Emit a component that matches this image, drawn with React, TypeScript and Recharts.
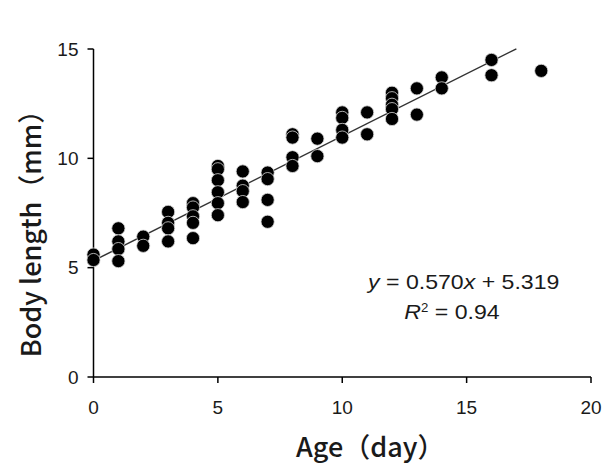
import React, { useEffect } from 'react'
import {
  ScatterChart,
  Scatter,
  XAxis,
  YAxis,
  ReferenceLine,
} from 'recharts'

// age (day) of each measured larva
const ageDays = [
  0, 0,
  1, 1, 1, 1,
  2, 2,
  3, 3, 3, 3,
  4, 4, 4, 4, 4,
  5, 5, 5, 5, 5, 5,
  6, 6, 6, 6,
  7, 7, 7, 7,
  8, 8, 8, 8,
  9, 9,
  10, 10, 10, 10,
  11, 11,
  12, 12, 12, 12, 12,
  13, 13,
  14, 14,
  16, 16,
  18,
]

// body length (mm), same order as ageDays
const bodyLengthMm = [
  5.6, 5.35,
  6.8, 6.2, 5.85, 5.3,
  6.42, 6.0,
  7.55, 7.05, 6.8, 6.2,
  7.95, 7.75, 7.35, 7.05, 6.35,
  9.65, 9.5, 9.0, 8.45, 7.95, 7.4,
  9.4, 8.75, 8.5, 8.0,
  9.35, 9.05, 8.1, 7.1,
  11.1, 10.95, 10.05, 9.65,
  10.9, 10.1,
  12.1, 11.85, 11.3, 10.95,
  12.1, 11.1,
  13.0, 12.75, 12.45, 12.25, 11.8,
  13.2, 12.0,
  13.7, 13.2,
  14.5, 13.8,
  14.0,
]

// linear fit: y = 0.570x + 5.319, R^2 = 0.94
const fitSlope = 0.57
const fitIntercept = 5.319
const fitRSquared = 0.94
const fitAgeRange = [0, 17]

const xTicks = [0, 5, 10, 15, 20]
const yTicks = [0, 5, 10, 15]

const points = ageDays.map((age, i) => ({ age, length: bodyLengthMm[i] }))
const fitSegment = fitAgeRange.map((x) => ({ x, y: fitIntercept + fitSlope * x }))

const tickStyle = { fontFamily: 'Liberation Sans, Arial, sans-serif', fontSize: 19, fill: '#1a1a1a' }
const labelFont = '"Noto Sans CJK JP", "Liberation Sans", sans-serif'

const Dot = (props: any) => (
  <circle cx={props.cx} cy={props.cy} r={6.6} fill="#000" stroke="#d8d8d8" strokeWidth={0.8} />
)

// axis titles; viewBox is the axis' own box
const XTitle = ({ viewBox }: any) => (
  <text
    x={viewBox.x + viewBox.width / 2 + 28}
    y={viewBox.y + 80}
    textAnchor="middle"
    fontFamily={labelFont}
    fontSize={27}
    fontWeight={500}
    fill="#1a1a1a"
  >
    Age（day）
  </text>
)

const YTitle = ({ viewBox }: any) => {
  const cx = viewBox.x + viewBox.width - 64
  const cy = viewBox.y + viewBox.height / 2 + 14
  return (
    <text
      x={cx}
      y={cy}
      transform={`rotate(-90, ${cx}, ${cy})`}
      textAnchor="middle"
      dominantBaseline="central"
      fontFamily={labelFont}
      fontSize={27}
      fontWeight={500}
      fill="#1a1a1a"
    >
      Body length（mm）
    </text>
  )
}

const App: React.FC = () => {
  useEffect(() => {
    document.body.style.margin = '0'
  }, [])

  return (
    <div style={{ position: 'relative', width: 611, height: 474, background: '#fff' }}>
      <ScatterChart width={611} height={474} margin={{ top: 49, right: 20, bottom: 37, left: 33.5 }}>
        <XAxis
          type="number"
          dataKey="age"
          domain={[0, 20]}
          ticks={xTicks}
          height={60}
          tickSize={6}
          tickMargin={18}
          stroke="#000"
          strokeWidth={1.5}
          tick={tickStyle}
          label={<XTitle />}
        />
        <YAxis
          type="number"
          dataKey="length"
          domain={[0, 15]}
          ticks={yTicks}
          width={60}
          tickSize={6}
          tickMargin={9}
          stroke="#000"
          strokeWidth={1.5}
          tick={tickStyle}
          label={<YTitle />}
        />
        <ReferenceLine segment={fitSegment} stroke="#333" strokeWidth={1.5} ifOverflow="visible" />
        <Scatter data={points} fill="#000" shape={Dot} isAnimationActive={false} />
      </ScatterChart>
      <div
        style={{
          position: 'absolute',
          left: 368,
          top: 267,
          fontFamily: 'Liberation Sans, Arial, sans-serif',
          fontSize: 21,
          color: '#1a1a1a',
          lineHeight: '30px',
          whiteSpace: 'nowrap',
          transform: 'scaleX(1.1)',
          transformOrigin: 'left top',
        }}
      >
        <div>
          <i>y</i> = {fitSlope.toFixed(3)}<i>x</i> + {fitIntercept.toFixed(3)}
        </div>
        <div style={{ paddingLeft: 33 }}>
          <i>R</i>
          <sup style={{ fontSize: 12, verticalAlign: '0.6em', lineHeight: 0 }}>2</sup> = {fitRSquared.toFixed(2)}
        </div>
      </div>
    </div>
  )
}

export default App
